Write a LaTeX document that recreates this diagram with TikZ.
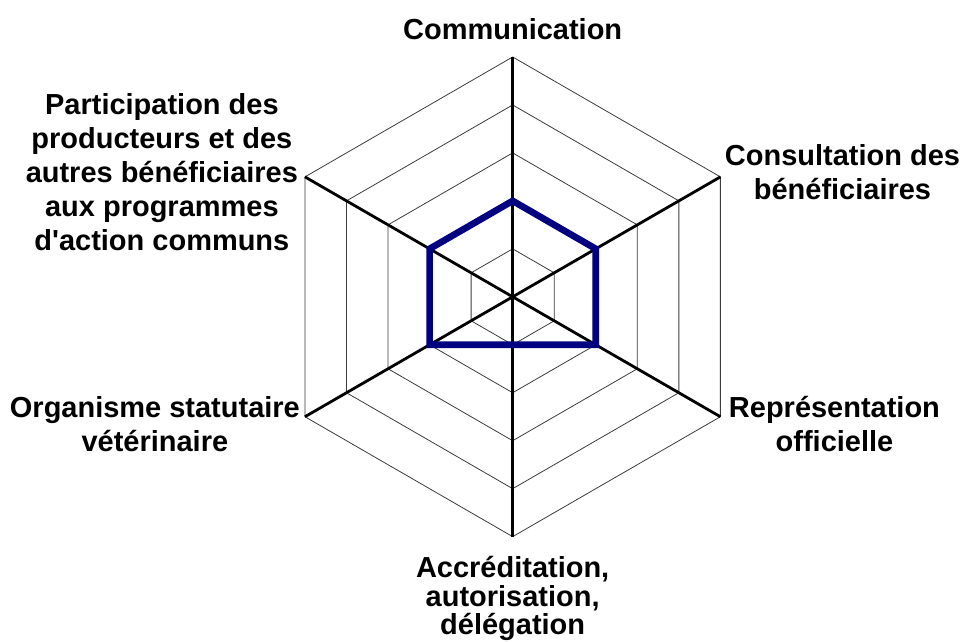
\documentclass[tikz,border=0pt]{standalone}
\usepackage{fontspec}
\setmainfont{Liberation Sans}
\usepackage{tikz}
\usepackage{xcolor}

\begin{document}
\begin{tikzpicture}[x=0.75pt,y=0.75pt,yscale=-1,xscale=1]
\path (0,0) rectangle (960,642); %set diagram size 960 x 642

%Coordinates: centre and outer vertices
\coordinate (O) at (513,297);
\coordinate (vA) at (513,57);
\coordinate (vB) at (720.85,177);
\coordinate (vC) at (720.85,417);
\coordinate (vD) at (513,537);
\coordinate (vE) at (305.15,417);
\coordinate (vF) at (305.15,177);

%Shape: Polygon [ring 1]
\draw  [color={rgb, 255:red, 60; green, 60; blue, 60 }  ,line width=0.6] (513,249) -- (554.57,273) -- (554.57,321) -- (513,345) -- (471.43,321) -- (471.43,273) -- cycle ;
%Shape: Polygon [ring 2]
\draw  [color={rgb, 255:red, 60; green, 60; blue, 60 }  ,line width=0.6] (513,201) -- (596.14,249) -- (596.14,345) -- (513,393) -- (429.86,345) -- (429.86,249) -- cycle ;
%Shape: Polygon [ring 3]
\draw  [color={rgb, 255:red, 60; green, 60; blue, 60 }  ,line width=0.6] (513,153) -- (637.71,225) -- (637.71,369) -- (513,441) -- (388.29,369) -- (388.29,225) -- cycle ;
%Shape: Polygon [ring 4]
\draw  [color={rgb, 255:red, 60; green, 60; blue, 60 }  ,line width=0.6] (513,105) -- (679.28,201) -- (679.28,393) -- (513,489) -- (346.72,393) -- (346.72,201) -- cycle ;
%Shape: Polygon [ring 5]
\draw  [color={rgb, 255:red, 60; green, 60; blue, 60 }  ,line width=0.6] (vA) -- (vB) -- (vC) -- (vD) -- (vE) -- (vF) -- cycle ;

%Straight Lines [axes]
\draw  [line width=2.1]  (O) -- (vA) ;
\draw  [line width=2.1]  (O) -- (vB) ;
\draw  [line width=2.1]  (O) -- (vC) ;
\draw  [line width=2.1]  (O) -- (vD) ;
\draw  [line width=2.1]  (O) -- (vE) ;
\draw  [line width=2.1]  (O) -- (vF) ;

%Shape: Polygon [values]
\draw  [color={rgb, 255:red, 0; green, 0; blue, 128 }  ,line width=5] [line join=miter] (513,201) -- (596.14,249) -- (596.14,345) -- (513,345) -- (429.86,345) -- (429.86,249) -- cycle ;

% Text Node
\draw (513,29) node (comm) [inner sep=0pt] [font=\bfseries\fontsize{21.75}{25.5}\selectfont] [align=center] {Communication};
% Text Node
\draw (843,172) node (consult) [inner sep=0pt] [font=\bfseries\fontsize{21.75}{25.5}\selectfont] [align=center] {Consultation des\\bénéficiaires};
% Text Node
\draw (835,424) node (repr) [inner sep=0pt] [font=\bfseries\fontsize{21.75}{25.5}\selectfont] [align=center] {Représentation\\officielle};
% Text Node
\draw (513,599) node (accred) [inner sep=0pt] [font=\bfseries\fontsize{21.75}{21.5}\selectfont] [align=center] {Accréditation,\\autorisation,\\délégation};
% Text Node
\draw (155,424) node (osv) [inner sep=0pt] [font=\bfseries\fontsize{21.75}{25.5}\selectfont] [align=center] {Organisme statutaire\\vétérinaire};
% Text Node
\draw (162,172) node (partic) [inner sep=0pt] [font=\bfseries\fontsize{21.75}{25.5}\selectfont] [align=center] {Participation des\\producteurs et des\\autres bénéficiaires\\aux programmes\\d\textquotesingle action communs};

\end{tikzpicture}
\end{document}
